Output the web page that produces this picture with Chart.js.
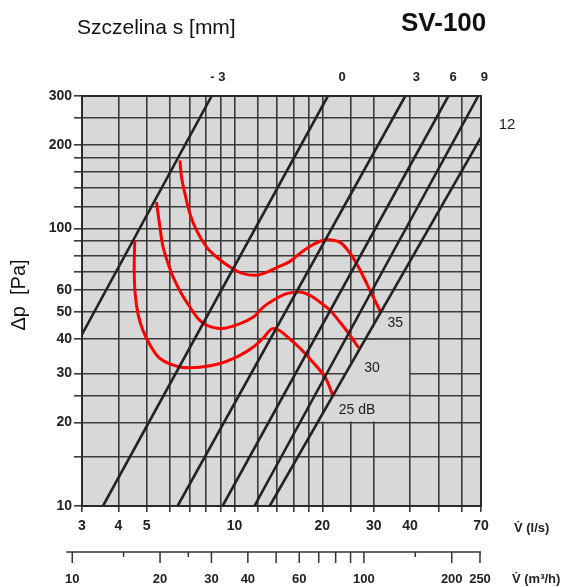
<!DOCTYPE html>
<html><head><meta charset="utf-8">
<script src="https://cdn.jsdelivr.net/npm/chart.js@4"></script>
<style>html,body{margin:0;padding:0;background:#fff;}canvas{display:block;}</style>
</head><body>
<canvas id="c" width="573" height="587"></canvas>
<script>
// ---- axes / grid values ----
const xGrid = [3,4,5,6,7,8,9,10,12,14,16,18,20,25,30,40,50,60,70];
const xTickLabels = [3,4,5,10,20,30,40,70];
const yGrid = [10,15,20,25,30,40,50,60,70,80,90,100,120,140,160,180,200,250,300];
const yTickLabels = [10,20,30,40,50,60,100,200,300];
// secondary flow axis in m3/h
const m3hMajor = [10,20,30,40,50,60,70,80,90,100,200,250];
const m3hMinor = [15,25,150];
const m3hLabels = [10,20,30,40,60,100,200,250];

// ---- slot setting lines (s in mm): start and end points [l/s, Pa] ----
const slotNames = ['- 3','0','3','6','9','12'];
const slotStart = [[3,41.5],[3.54,10],[6.38,10],[9.1,10],[11.7,10],[13.2,10]];
const slotEnd   = [[8.35,300],[20.9,300],[38.5,300],[54.1,300],[68.5,300],[70,213]];
const slotLabelX = [8.77,23.4,42,56.2,71.9];   // l/s where top labels sit
// ---- noise curves [l/s, Pa] ----
const curve25 = [[4.55,90.6],[4.53,70.6],[4.57,57.4],[4.68,48.6],[4.85,42.95],[5.12,38.2],[5.55,34.0],[6.5,31.7],[7.61,31.6],[8.91,32.6],[10.44,34.9],[11.57,37.3],[12.52,40.2],[13.44,43.5],[14.21,42.95],[15.38,40.2],[16.78,37.0],[18.6,32.9],[20.45,29.1],[21.8,24.8]];
const curve30 = [[5.40,124.5],[5.55,101.2],[5.69,85.7],[5.92,74.7],[6.16,66.8],[6.58,58.2],[7.03,52.1],[7.51,47.3],[8.02,44.8],[9.03,43.6],[10.44,45.4],[11.6,47.95],[12.55,52.1],[13.58,55.1],[15.1,58.2],[16.78,59.0],[18.16,57.4],[19.65,54.2],[21.26,50.7],[23.0,45.9],[24.9,41.2],[26.65,37.1]];
const curve35 = [[6.50,176],[6.58,153.2],[6.76,133.5],[7.03,113.1],[7.41,98.4],[8.02,85.7],[8.68,78.9],[9.65,72.6],[10.72,68.7],[11.75,67.8],[12.55,68.7],[13.96,72.3],[15.5,76.1],[16.78,81.4],[18.16,86.2],[19.65,89.9],[20.8,91.0],[23.0,89.1],[24.9,81.4],[26.6,72.6],[28.4,63.3],[29.9,56.6],[31.6,50.3]];
const curveNames = ['25 dB','30','35'];
const curveLabelPos = [[26.3,22.1],[29.6,31.5],[35.6,45.5]];

const FONT = "'Liberation Sans', Arial, Helvetica, sans-serif";
const BG = '#d8d8d8';
const GRID = '#3a3a3a';

const datasets = [];
slotStart.forEach((s,i)=>datasets.push({
  data:[{x:s[0],y:s[1]},{x:slotEnd[i][0],y:slotEnd[i][1]}],
  borderColor:'#222', borderWidth:2.6, pointRadius:0, tension:0
}));
[curve25,curve30,curve35].forEach(c=>datasets.push({
  data:c.map(p=>({x:p[0],y:p[1]})),
  borderColor:'#ff0000', borderWidth:3, pointRadius:0, tension:0.35
}));

// x on slot line 12 at pressure p (log-log interpolation)
function line12X(p){
  const a=slotStart[5], b=slotEnd[5];
  const t=(Math.log(p)-Math.log(a[1]))/(Math.log(b[1])-Math.log(a[1]));
  return Math.exp(Math.log(a[0])+t*(Math.log(b[0])-Math.log(a[0])));
}

const plugin = {
  id:'deco',
  beforeDraw(chart){
    const {ctx, chartArea:a} = chart;
    ctx.save(); ctx.fillStyle=BG; ctx.fillRect(a.left,a.top,a.right-a.left,a.bottom-a.top); ctx.restore();
  },
  beforeDatasetsDraw(chart){
    const {ctx, scales:{x,y}} = chart;
    ctx.save();
    ctx.fillStyle=BG;
    ctx.beginPath();
    ctx.moveTo(x.getPixelForValue(line12X(50))+1, y.getPixelForValue(50)+1);
    ctx.lineTo(x.getPixelForValue(40)-1, y.getPixelForValue(50)+1);
    ctx.lineTo(x.getPixelForValue(40)-1, y.getPixelForValue(20)-1);
    ctx.lineTo(x.getPixelForValue(line12X(20))+1, y.getPixelForValue(20)-1);
    ctx.closePath(); ctx.fill();
    ctx.strokeStyle=GRID; ctx.lineWidth=1.6;
    [40,25].forEach(p=>{
      ctx.beginPath();
      ctx.moveTo(x.getPixelForValue(line12X(p)), y.getPixelForValue(p));
      ctx.lineTo(x.getPixelForValue(40), y.getPixelForValue(p));
      ctx.stroke();
    });
    ctx.restore();
  },
  afterDatasetsDraw(chart){
    const {ctx, chartArea:a} = chart;
    ctx.save(); ctx.strokeStyle='#2a2a2a'; ctx.lineWidth=2;
    ctx.strokeRect(a.left,a.top,a.right-a.left,a.bottom-a.top); ctx.restore();
  },
  afterDraw(chart){
    const {ctx, scales:{x,y}, chartArea:a} = chart;
    ctx.save();
    ctx.fillStyle='#111';
    ctx.textBaseline='middle';
    ctx.textAlign='left';
    ctx.font='21px '+FONT;
    ctx.fillText('Szczelina s [mm]', 77, 28);
    ctx.font='bold 26px '+FONT;
    ctx.fillText('SV-100', 401, 24);
    ctx.save();
    ctx.translate(19, 295); ctx.rotate(-Math.PI/2);
    ctx.textAlign='center'; ctx.font='20px '+FONT;
    ctx.fillText('\u0394p  [Pa]', 0, 0);
    ctx.restore();
    ctx.font='bold 13px '+FONT; ctx.fillStyle='#222'; ctx.textAlign='center';
    slotLabelX.forEach((v,i)=>ctx.fillText(slotNames[i], x.getPixelForValue(v), 77));
    ctx.font='15px '+FONT;
    ctx.fillText(slotNames[5], a.right+26, 125);
    ctx.font='14px '+FONT; ctx.fillStyle='#1a1a1a';
    curveLabelPos.forEach((p,i)=>ctx.fillText(curveNames[i], x.getPixelForValue(p[0]), y.getPixelForValue(p[1])));
    ctx.font='bold 13px '+FONT; ctx.textAlign='left'; ctx.fillStyle='#222';
    ctx.fillText('V\u0307 (l/s)', 514, 528);
    const ay = 552;
    const px = v => x.getPixelForValue(v/3.6);
    ctx.strokeStyle='#333'; ctx.lineWidth=1.5;
    ctx.beginPath(); ctx.moveTo(px(10)-6, ay); ctx.lineTo(a.right, ay); ctx.stroke();
    m3hMajor.forEach(v=>{ctx.beginPath(); ctx.moveTo(px(v), ay); ctx.lineTo(px(v), ay+11); ctx.stroke();});
    m3hMinor.forEach(v=>{ctx.beginPath(); ctx.moveTo(px(v), ay); ctx.lineTo(px(v), ay+5); ctx.stroke();});
    ctx.textAlign='center';
    ctx.font='bold 13px '+FONT;
    m3hLabels.forEach(v=>ctx.fillText(String(v), px(v), 579));
    ctx.textAlign='left';
    ctx.fillText('V\u0307 (m\u00b3/h)', 512, 579);
    ctx.restore();
  }
};

new Chart(document.getElementById('c'), {
  type:'line',
  data:{datasets},
  plugins:[plugin],
  options:{
    responsive:false, animation:false, devicePixelRatio:1,
    layout:{padding:{left:0,right:92,top:96,bottom:0}},
    plugins:{legend:{display:false}, tooltip:{enabled:false}},
    scales:{
      x:{type:'logarithmic', min:3, max:70, position:'bottom',
        afterBuildTicks:s=>{s.ticks=xGrid.map(v=>({value:v}));},
        afterFit:s=>{s.height=81;},
        grid:{color:GRID, lineWidth:1.6, drawTicks:true, tickLength:6, tickColor:GRID, tickWidth:1.6},
        border:{display:false},
        ticks:{autoSkip:false, maxRotation:0, minRotation:0, padding:6, color:'#222',
          font:{family:FONT,size:14,weight:'bold'},
          callback:v=>xTickLabels.includes(v)?String(v):''}
      },
      y:{type:'logarithmic', min:10, max:300, position:'left',
        afterBuildTicks:s=>{s.ticks=yGrid.map(v=>({value:v}));},
        afterFit:s=>{s.width=82;},
        grid:{color:GRID, lineWidth:1.6, drawTicks:true, tickLength:8, tickColor:GRID, tickWidth:1.6},
        border:{display:false},
        ticks:{autoSkip:false, padding:2, color:'#222',
          font:{family:FONT,size:14,weight:'bold'},
          callback:v=>yTickLabels.includes(v)?String(v):''}
      }
    }
  }
});
</script>
</body></html>
